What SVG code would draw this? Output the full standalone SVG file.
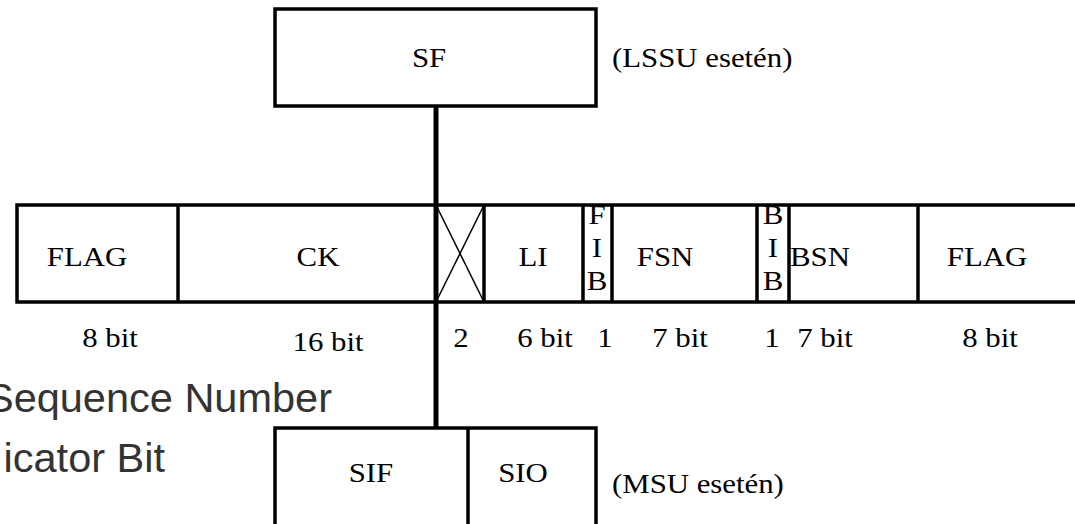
<svg xmlns="http://www.w3.org/2000/svg" width="1075" height="524" viewBox="0 0 1075 524">
<style>
.box{fill:#fff;stroke:#000;stroke-width:3.5}
.div{stroke:#000;stroke-width:3.5}
.thin{stroke:#000;stroke-width:1.5}
.conn{stroke:#000;stroke-width:5}
.t{font-family:"Liberation Serif","Times New Roman",serif;font-size:28px;fill:#000;text-anchor:middle}
.ts{font-family:"Liberation Serif","Times New Roman",serif;font-size:28px;fill:#000}
.big{font-family:"Liberation Sans",Arial,sans-serif;font-size:41.5px;fill:#333;text-anchor:end}
</style>
<rect width="1075" height="524" fill="#fff"/>
<g id="connectors">
<line class="conn" x1="436" y1="106" x2="436" y2="205"/>
<line class="conn" x1="436" y1="302" x2="436" y2="428"/>
</g>
<g id="sf">
<rect class="box" x="275" y="9" width="321" height="97"/>
<text class="t" transform="translate(429 67) scale(1.1 1)">SF</text>
<text class="ts" transform="translate(612 67) scale(1.1 1)">(LSSU esetén)</text>
</g>
<g id="frame">
<rect class="box" x="17" y="205" width="1070" height="97"/>
<line class="div" x1="178" y1="205" x2="178" y2="302"/>
<line class="conn" x1="436" y1="205" x2="436" y2="302"/>
<line class="div" x1="484" y1="205" x2="484" y2="302"/>
<line class="thin" x1="436" y1="205" x2="484" y2="302"/>
<line class="thin" x1="484" y1="205" x2="436" y2="302"/>
<line class="div" x1="583" y1="205" x2="583" y2="302"/>
<line class="div" x1="612" y1="205" x2="612" y2="302"/>
<line class="div" x1="757" y1="205" x2="757" y2="302"/>
<line class="div" x1="789" y1="205" x2="789" y2="302"/>
<line class="div" x1="918" y1="205" x2="918" y2="302"/>
<text class="t" transform="translate(87 266) scale(1.1 1)">FLAG</text>
<text class="t" transform="translate(318 266) scale(1.1 1)">CK</text>
<text class="t" transform="translate(533 266) scale(1.1 1)">LI</text>
<text class="t" transform="translate(597 224) scale(1.1 1)">F</text>
<text class="t" transform="translate(597 257) scale(1.1 1)">I</text>
<text class="t" transform="translate(597 290) scale(1.1 1)">B</text>
<text class="t" transform="translate(665 266) scale(1.1 1)">FSN</text>
<text class="t" transform="translate(773 224) scale(1.1 1)">B</text>
<text class="t" transform="translate(773 257) scale(1.1 1)">I</text>
<text class="t" transform="translate(773 290) scale(1.1 1)">B</text>
<text class="t" transform="translate(820 266) scale(1.1 1)">BSN</text>
<text class="t" transform="translate(987 266) scale(1.1 1)">FLAG</text>
</g>
<g id="bits">
<text class="t" transform="translate(110 347) scale(1.1 1)">8 bit</text>
<text class="t" transform="translate(328 351) scale(1.1 1)">16 bit</text>
<text class="t" transform="translate(461 347) scale(1.1 1)">2</text>
<text class="t" transform="translate(545 347) scale(1.1 1)">6 bit</text>
<text class="t" transform="translate(605 347) scale(1.1 1)">1</text>
<text class="t" transform="translate(680 347) scale(1.1 1)">7 bit</text>
<text class="t" transform="translate(772 347) scale(1.1 1)">1</text>
<text class="t" transform="translate(825 347) scale(1.1 1)">7 bit</text>
<text class="t" transform="translate(990 347) scale(1.1 1)">8 bit</text>
</g>
<g id="overlay-text">
<text class="big" x="332" y="412">Sequence Number</text>
<text class="big" x="165" y="472">icator Bit</text>
</g>
<g id="msu">
<rect class="box" x="275" y="428" width="321" height="110"/>
<line class="div" x1="468" y1="428" x2="468" y2="530"/>
<text class="t" transform="translate(371 482) scale(1.1 1)">SIF</text>
<text class="t" transform="translate(523 482) scale(1.1 1)">SIO</text>
<text class="ts" transform="translate(612 493) scale(1.1 1)">(MSU esetén)</text>
</g>
</svg>
